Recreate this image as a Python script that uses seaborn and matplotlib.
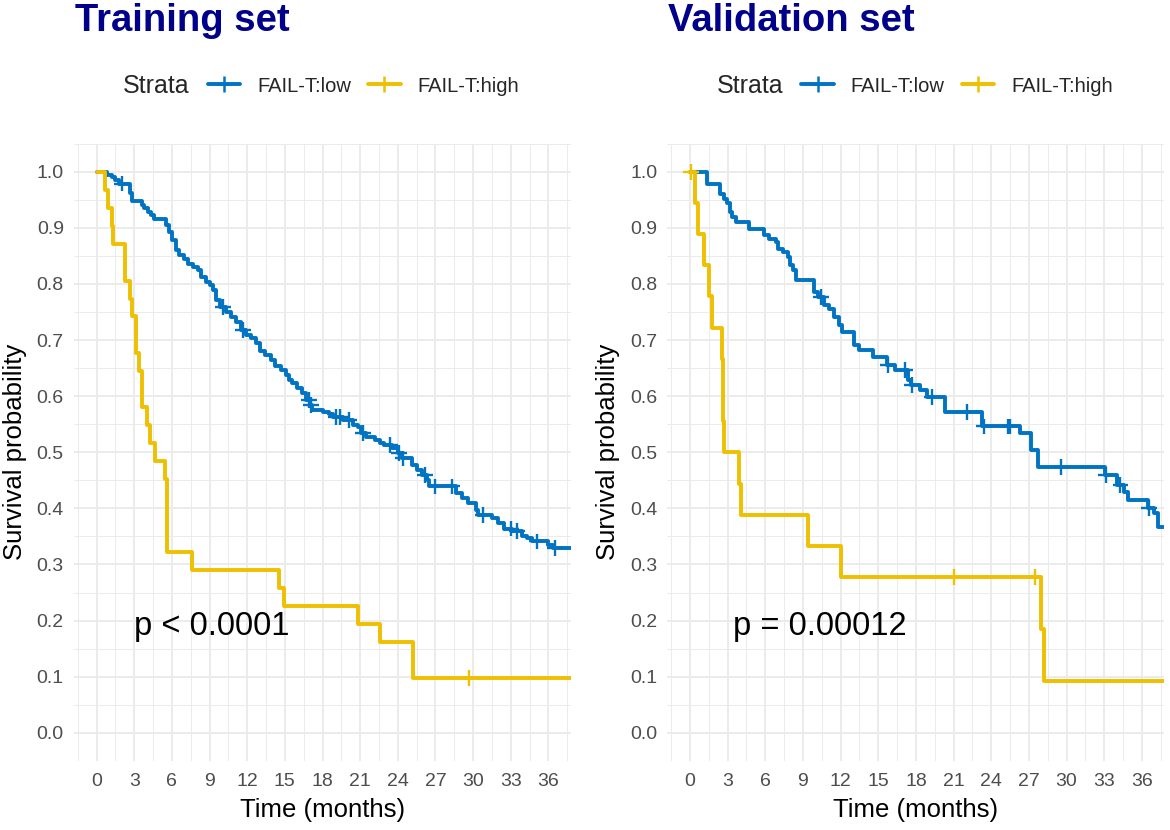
import numpy as np
import pandas as pd
import matplotlib.pyplot as plt
import seaborn as sbs
from matplotlib.lines import Line2D
from matplotlib.ticker import MultipleLocator


# Kaplan-Meier steps (time in months, survival after each drop)
train_low_time = [0.0, 0.8, 1.2, 1.5, 1.8, 2.65, 2.8, 3.6, 3.75, 4.1, 4.35, 4.6, 5.55, 5.8, 6.0,
                  6.35, 6.6, 7.0, 7.3, 7.7, 8.1, 8.35, 8.75, 9.0, 9.25, 9.5, 9.8, 10.3, 10.7, 11.1,
                  11.5, 11.9, 12.3, 12.7, 13.0, 13.4, 13.9, 14.2, 14.7, 15.1, 15.35, 15.6, 16.0, 16.4,
                  16.7, 17.0, 17.2, 18.0, 18.5, 18.8, 19.6, 20.4, 20.8, 21.1, 21.5, 22.2, 22.6, 22.9,
                  23.5, 24.0, 24.3, 25.1, 25.5, 25.9, 26.3, 26.5, 28.6, 29.1, 29.6, 30.2, 30.4, 31.5,
                  32.0, 32.5, 33.1, 33.9, 34.3, 34.7, 36.0, 36.4, 38.5]
train_low_surv = [1.000, 0.994, 0.990, 0.985, 0.979, 0.962, 0.947, 0.941, 0.935, 0.929, 0.923, 0.915,
                  0.905, 0.893, 0.878, 0.860, 0.851, 0.845, 0.836, 0.831, 0.825, 0.813, 0.804, 0.798,
                  0.789, 0.771, 0.759, 0.750, 0.741, 0.733, 0.718, 0.709, 0.703, 0.694, 0.680, 0.674,
                  0.665, 0.653, 0.647, 0.638, 0.629, 0.623, 0.614, 0.605, 0.593, 0.584, 0.576, 0.572,
                  0.569, 0.563, 0.558, 0.549, 0.545, 0.534, 0.528, 0.521, 0.517, 0.513, 0.507, 0.498,
                  0.489, 0.477, 0.469, 0.460, 0.451, 0.439, 0.427, 0.418, 0.409, 0.397, 0.388, 0.382,
                  0.373, 0.364, 0.359, 0.350, 0.347, 0.341, 0.335, 0.329, 0.329]
train_low_cens = [2.0, 10.05, 11.65, 16.9, 17.1, 19.1, 19.4, 20.1, 21.2, 23.4, 24.1, 24.4, 26.2,
                  27.0, 28.3, 30.8, 33.0, 33.5, 35.1, 36.5]

train_high_time = [0.0, 0.66, 0.93, 1.19, 1.33, 2.25, 2.65, 2.86, 3.13, 3.34, 3.58, 3.98, 4.24, 4.64,
                   5.44, 5.62, 7.64, 14.5, 14.9, 20.8, 22.6, 25.2, 38.5]
train_high_surv = [1.000, 0.968, 0.935, 0.903, 0.871, 0.806, 0.774, 0.742, 0.677, 0.645, 0.581,
                   0.548, 0.516, 0.484, 0.452, 0.323, 0.290, 0.258, 0.226, 0.194, 0.161, 0.097, 0.097]
train_high_cens = [29.7]

valid_low_time = [0.0, 1.35, 2.42, 2.69, 2.96, 3.18, 3.35, 3.64, 4.71, 5.92, 6.33, 6.87, 7.0, 7.41,
                  7.81, 7.94, 8.21, 8.48, 9.9, 10.2, 10.64, 11.04, 11.45, 11.85, 12.12, 13.06, 13.47,
                  14.6, 15.7, 16.3, 17.4, 17.6, 18.3, 18.85, 20.3, 23.3, 26.3, 27.2, 27.7, 33.1, 34.0,
                  34.6, 34.9, 36.5, 37.0, 37.3, 38.5]
valid_low_surv = [1.000, 0.979, 0.961, 0.952, 0.944, 0.929, 0.920, 0.911, 0.898, 0.887, 0.881, 0.875,
                  0.863, 0.857, 0.848, 0.834, 0.825, 0.807, 0.786, 0.777, 0.762, 0.756, 0.741, 0.727,
                  0.715, 0.691, 0.682, 0.670, 0.655, 0.646, 0.629, 0.620, 0.611, 0.599, 0.572, 0.546,
                  0.534, 0.504, 0.474, 0.460, 0.442, 0.430, 0.415, 0.400, 0.391, 0.367, 0.367]
valid_low_cens = [10.45, 15.8, 17.1, 17.65, 19.3, 22.1, 23.45, 25.3, 25.5, 29.6, 33.15, 34.3, 36.6]

valid_high_time = [0.0, 0.4, 0.67, 1.08, 1.48, 1.75, 2.56, 2.62, 2.66, 2.7, 3.88, 4.04, 9.43, 12.0,
                   28.0, 28.2, 38.5]
valid_high_surv = [1.000, 0.944, 0.889, 0.833, 0.778, 0.722, 0.667, 0.611, 0.556, 0.500, 0.444,
                   0.389, 0.333, 0.278, 0.185, 0.093, 0.093]
valid_high_cens = [0.05, 21.0, 27.5]

strata = ["FAIL-T:low", "FAIL-T:high"]
colors = ["#0073C2", "#EFC000"]
x_ticks = list(range(0, 37, 3))
y_ticks = [0.0, 0.1, 0.2, 0.3, 0.4, 0.5, 0.6, 0.7, 0.8, 0.9, 1.0]


def km_frame(curves):
    rows = []
    for label, (t, s, c) in zip(strata, curves):
        rows.append(pd.DataFrame({"Time": t, "Surv": s, "Strata": label}))
    return pd.concat(rows, ignore_index = True)


def cens_frame(curves):
    # censor marks sit on the curve at their time
    rows = []
    for label, (t, s, c) in zip(strata, curves):
        idx = np.searchsorted(np.array(t), np.array(c), side = "right") - 1
        rows.append(pd.DataFrame({"Time": c, "Surv": np.array(s)[idx], "Strata": label}))
    return pd.concat(rows, ignore_index = True)


sbs.set_theme(style = "white")
plt.rcParams["font.family"] = ["Liberation Sans", "DejaVu Sans"]

W, H = 1170, 830
fig = plt.figure(figsize = (W / 100, H / 100), dpi = 100)

panels = [
    ("Training set", [(train_low_time, train_low_surv, train_low_cens),
                      (train_high_time, train_high_surv, train_high_cens)], "p < 0.0001", 3.0, 74.0),
    ("Validation set", [(valid_low_time, valid_low_surv, valid_low_cens),
                        (valid_high_time, valid_high_surv, valid_high_cens)], "p = 0.00012", 3.45, 667.4),
]

palette = dict(zip(strata, colors))

for title, curves, ptext, px, left in panels:
    ax = fig.add_axes([left / W, 69.2 / H, 497 / W, 617.1 / H])

    sbs.lineplot(data = km_frame(curves), x = "Time", y = "Surv", hue = "Strata",
                 hue_order = strata, palette = palette, estimator = None,
                 drawstyle = "steps-post", linewidth = 2.8, legend = False, ax = ax)
    sbs.scatterplot(data = cens_frame(curves), x = "Time", y = "Surv", hue = "Strata",
                    hue_order = strata, palette = palette, marker = "+", s = 130,
                    linewidth = 1.7, legend = False, ax = ax, zorder = 3)

    ax.set_xlim(-1.8, 37.8)
    ax.set_ylim(-0.05, 1.05)
    ax.set_xticks(x_ticks)
    ax.set_yticks(y_ticks)
    ax.set_yticklabels([f"{v:.1f}" for v in y_ticks])
    ax.xaxis.set_minor_locator(MultipleLocator(1.5))
    ax.yaxis.set_minor_locator(MultipleLocator(0.05))
    ax.grid(which = "major", color = "#EBEBEB", linewidth = 1.4)
    ax.grid(which = "minor", color = "#EBEBEB", linewidth = 0.7)
    ax.set_axisbelow(True)
    for sp in ax.spines.values():
        sp.set_visible(False)
    ax.tick_params(which = "major", length = 4.3, width = 1.1, color = "black",
                   labelcolor = "#4D4D4D", labelsize = 14, pad = 3)
    ax.tick_params(axis = "x", which = "major", pad = 4.5)
    ax.tick_params(which = "minor", length = 0)

    ax.set_xlabel("Time (months)", fontsize = 18.5, color = "black", va = "center")
    ax.set_ylabel("Survival probability", fontsize = 18.5, color = "black", va = "center")
    ax.xaxis.set_label_coords(0.5, -(810 - 760.8) / 617.1)
    ax.yaxis.set_label_coords(-(74 - 15) / 497, 0.5)

    ax.text(px, 0.174, ptext, fontsize = 23.5, color = "black", va = "baseline", ha = "left")

    off = left - 74.0
    fig.text((left + 1) / W, (H - 31) / H, title, fontsize = 27.5, fontweight = "bold",
             color = "#00008B", va = "baseline", ha = "left")
    fig.text((123 + off) / W, (H - 86) / H, "Strata", fontsize = 18, va = "center", ha = "left")
    handles = [Line2D([], [], color = c, linewidth = 2.8, marker = "+", markersize = 12,
                      markeredgewidth = 1.8) for c in colors]
    fig.legend(handles, strata, loc = "center left", bbox_to_anchor = ((208 + off) / W, (H - 86) / H),
               ncol = 2, frameon = False, fontsize = 14.5, handlelength = 1.6,
               handletextpad = 0.85, columnspacing = 0.85, borderpad = 0, borderaxespad = 0)

fig.savefig("out.png", dpi = 100)
